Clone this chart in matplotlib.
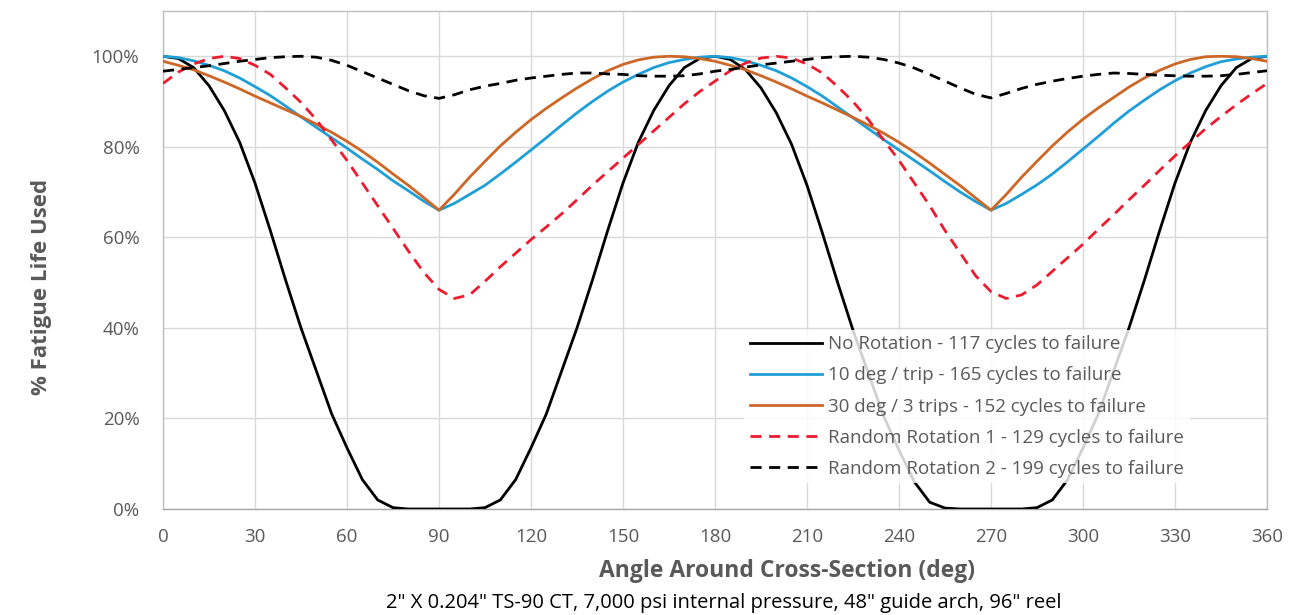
import matplotlib
matplotlib.use("Agg")
import matplotlib.pyplot as plt
from matplotlib.ticker import FuncFormatter

plt.rcParams['font.family'] = ['Open Sans', 'DejaVu Sans']

angles = list(range(0, 361, 5))

no_rotation = [
    100, 99.5, 97.5, 93.5, 88, 81, 72, 61.5, 50.5, 40, 30.5, 21, 13.5, 6.5, 2, 0.3,
    0, 0, 0, 0, 0, 0.3, 2, 6.5, 13.5, 21, 30.5, 40, 50.5, 61.5, 72, 81, 88, 93.5, 97.5, 99.5,
    100, 99.3, 97, 93, 87.5, 80.5, 71.5, 61, 50, 39.5, 30, 20.5, 13, 6, 1.5, 0.2,
    0, 0, 0, 0, 0, 0.3, 2, 6.5, 13.5, 21, 30.5, 40, 50.5, 61.5, 72, 81, 88, 93.5, 97.5, 99.5, 100]

deg10_trip = [
    100, 99.7, 99, 98, 96.8, 95.2, 93.3, 91.3, 89, 86.6, 84.3, 82, 79.7, 77.3, 75, 72.5, 70.3, 68, 66,
    67.5, 69.5, 71.5, 74, 76.6, 79.3, 82, 84.8, 87.5, 90, 92.3, 94.3, 96, 97.5, 98.6, 99.3, 99.8, 100,
    99.7, 99, 98, 96.8, 95.2, 93.3, 91.2, 88.8, 86.4, 84, 81.6, 79.3, 77, 74.7, 72.3, 70, 67.9, 66,
    67.5, 69.5, 71.6, 74, 76.7, 79.5, 82.3, 85.2, 87.9, 90.3, 92.6, 94.6, 96.3, 97.7, 98.8, 99.4, 99.8, 100]

deg30_3trips = [
    98.9, 98, 97, 95.7, 94.3, 92.8, 91.2, 89.7, 88.2, 86.7, 85, 83.2, 81.2, 79, 76.6, 74, 71.5, 68.8, 66,
    69.5, 73.3, 76.8, 80.2, 83.2, 86, 88.5, 90.8, 93, 95, 96.8, 98.2, 99.2, 99.8, 100, 99.9, 99.5, 98.9,
    98, 97, 95.7, 94.3, 92.8, 91.2, 89.7, 88.1, 86.5, 84.8, 83, 81, 78.8, 76.4, 73.9, 71.4, 68.7, 66,
    69.5, 73.3, 76.8, 80.2, 83.3, 86.1, 88.6, 90.9, 93.2, 95.2, 96.9, 98.3, 99.3, 99.9, 100, 99.9, 99.5, 98.9]

random_rot1 = [
    94, 96.5, 98.3, 99.5, 100, 99.5, 98, 96, 93, 89.8, 86, 81.5, 77, 72, 67, 62, 57, 52.3, 48.5,
    46.5, 47.3, 50.3, 53.5, 56.5, 59.5, 62.3, 65.2, 68.3, 71.5, 74.5, 77.5, 80.5, 83.5, 86.5, 89.5, 92.2, 94.5,
    96.8, 98.5, 99.6, 100, 99.6, 98.3, 96.3, 93.3, 90, 86, 81.5, 77, 72, 67, 61.5, 56.5, 51.5, 48,
    46.5, 47.3, 49.5, 52.5, 55.5, 58.5, 61.8, 65, 68.3, 71.5, 74.8, 78, 81, 84, 86.7, 89.3, 91.7, 94]

random_rot2 = [
    96.7, 97.1, 97.5, 97.9, 98.4, 98.9, 99.3, 99.7, 99.9, 100, 99.8, 99.1, 98, 96.6, 95.2, 93.8, 92.4, 91.3, 90.7,
    91.5, 92.6, 93.4, 94, 94.7, 95.2, 95.6, 96, 96.3, 96.3, 96.1, 96, 95.7, 95.6, 95.6, 95.7, 96.1, 96.7,
    97.1, 97.6, 98.1, 98.5, 98.9, 99.3, 99.7, 99.9, 100, 99.8, 99.3, 98.5, 97.4, 96, 94.5, 93, 91.6, 90.8,
    91.8, 92.9, 93.8, 94.5, 95.1, 95.6, 96, 96.3, 96.2, 96, 95.8, 95.7, 95.6, 95.6, 95.7, 96, 96.4, 96.8]

labels = [
    "No Rotation - 117 cycles to failure",
    "10 deg / trip - 165 cycles to failure",
    "30 deg / 3 trips - 152 cycles to failure",
    "Random Rotation 1 - 129 cycles to failure",
    "Random Rotation 2 - 199 cycles to failure",
]

x_ticks = list(range(0, 361, 30))
y_ticks = [0, 20, 40, 60, 80, 100]

W, H = 1316, 615
fig = plt.figure(figsize=(W / 100, H / 100), dpi=100)
ax = fig.add_axes([163 / W, 1 - 509 / H, 1104 / W, 498 / H])

lw = 2.0
ax.plot(angles, no_rotation, color='black', lw=lw, label=labels[0], zorder=3)
ax.plot(angles, deg10_trip, color='#1f9fd6', lw=lw, label=labels[1], zorder=3)
ax.plot(angles, deg30_3trips, color='#cd6727', lw=lw, label=labels[2], zorder=3)
ax.plot(angles, random_rot1, color='#ec1c2e', lw=lw, ls=(0, (4.0, 2.7)), label=labels[3], zorder=3)
ax.plot(angles, random_rot2, color='black', lw=lw, ls=(0, (4.0, 2.7)), label=labels[4], zorder=3)

ax.set_xlim(0, 360)
ax.set_ylim(0, 110)
ax.set_xticks(x_ticks)
ax.set_yticks(y_ticks)
ax.yaxis.set_major_formatter(FuncFormatter(lambda v, p: f"{int(v)}%"))
ax.grid(True, color='#d9d9d9', lw=1, zorder=0)
ax.set_axisbelow(True)
for s in ax.spines.values():
    s.set_color('#bfbfbf')
    s.set_linewidth(1)
ax.spines['bottom'].set_color('#a6a6a6')
ax.tick_params(axis='both', length=0, labelsize=13.5, labelcolor='#595959')
ax.tick_params(axis='x', pad=14)
ax.tick_params(axis='y', pad=17)

leg = ax.legend(loc='upper left', bbox_to_anchor=(0.5266, 0.360), borderaxespad=0,
                fontsize=13.5, frameon=True, framealpha=0.82, facecolor='white',
                edgecolor='none', handlelength=3.85, handletextpad=0.32,
                labelspacing=0.70, borderpad=0.3)
for t in leg.get_texts():
    t.set_color('#595959')
leg.get_frame().set_boxstyle('square', pad=0)

fig.text(787 / W, 1 - 571 / H, "Angle Around Cross-Section (deg)", ha='center', va='center',
         fontsize=16.5, fontweight='bold', color='#595959')
fig.text(724 / W, 1 - 603 / H,
         "2\" X 0.204\" TS-90 CT, 7,000 psi internal pressure, 48\" guide arch, 96\" reel",
         ha='center', va='center', fontsize=14.5, color='black')
fig.text(42 / W, 1 - 287 / H, "% Fatigue Life Used", rotation=90, ha='center', va='center',
         fontsize=16, fontweight='bold', color='#595959')

fig.savefig("out.png", dpi=100)
